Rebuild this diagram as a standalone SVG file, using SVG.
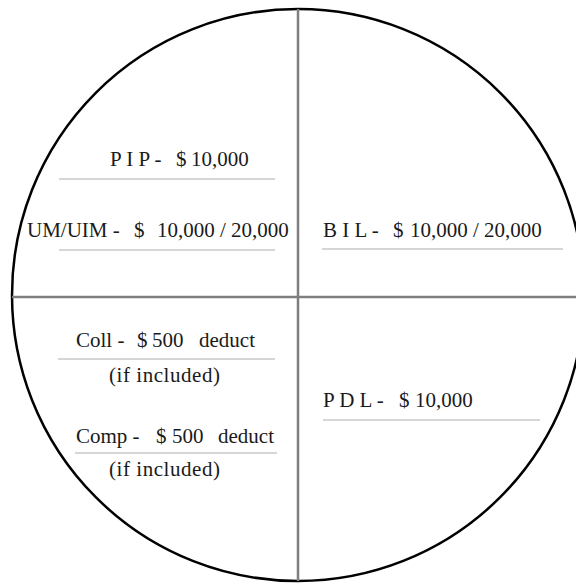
<svg xmlns="http://www.w3.org/2000/svg" width="576" height="583" viewBox="0 0 576 583">
<style>
  .t { font-family: "Liberation Serif", "Times New Roman", serif; font-size: 21px; fill: #1a1a1a; }
  .ul { stroke: #c8c8c8; stroke-width: 1.5; fill: none; }
  .div { stroke: #7f7f7f; stroke-width: 2.5; fill: none; }
</style>
<rect x="0" y="0" width="576" height="583" fill="#ffffff"/>
<g id="frame">
  <circle cx="298" cy="295" r="286" fill="none" stroke="#000000" stroke-width="2.5"/>
</g>
<g id="connectors">
  <line class="div" x1="298" y1="9" x2="298" y2="581"/>
  <line class="div" x1="12" y1="297" x2="576" y2="297"/>
</g>
<g id="pip">
  <text class="t" y="166"><tspan x="110">P I P -</tspan><tspan x="176">$</tspan><tspan x="191">10,000</tspan></text>
  <line class="ul" x1="59" y1="179" x2="275" y2="179"/>
</g>
<g id="umuim">
  <text class="t" y="237"><tspan x="27">UM/UIM -</tspan><tspan x="134">$</tspan><tspan x="157">10,000 / 20,000</tspan></text>
  <line class="ul" x1="59" y1="250" x2="275" y2="250"/>
</g>
<g id="bil">
  <text class="t" y="237"><tspan x="323">B I L -</tspan><tspan x="393">$</tspan><tspan x="410">10,000 / 20,000</tspan></text>
  <line class="ul" x1="322" y1="249" x2="563" y2="249"/>
</g>
<g id="coll">
  <text class="t" y="347"><tspan x="76">Coll -</tspan><tspan x="137">$</tspan><tspan x="152">500</tspan><tspan x="199">deduct</tspan></text>
  <line class="ul" x1="58" y1="359" x2="275" y2="359"/>
  <text class="t" x="109" y="382" textLength="111">(if included)</text>
</g>
<g id="comp">
  <text class="t" y="443"><tspan x="76">Comp -</tspan><tspan x="156">$</tspan><tspan x="172">500</tspan><tspan x="218">deduct</tspan></text>
  <line class="ul" x1="75" y1="453" x2="277" y2="453"/>
  <text class="t" x="109" y="476" textLength="111">(if included)</text>
</g>
<g id="pdl">
  <text class="t" y="407"><tspan x="323">P D L -</tspan><tspan x="399">$</tspan><tspan x="415">10,000</tspan></text>
  <line class="ul" x1="323" y1="420" x2="540" y2="420"/>
</g>
</svg>
